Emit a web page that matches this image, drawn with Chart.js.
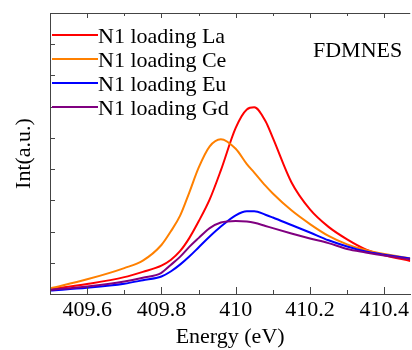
<!DOCTYPE html>
<html>
<head>
<meta charset="utf-8">
<script src="https://cdn.jsdelivr.net/npm/chart.js@4"></script>
<style>
  html, body { margin: 0; padding: 0; background: #fff; }
  #wrap { width: 412px; height: 350px; position: relative; }
</style>
</head>
<body>
<div id="wrap"><canvas id="spectra"></canvas></div>
<script>
const energy = [409.5, 409.6, 409.7, 409.75, 409.8, 409.825, 409.85, 409.875, 409.9, 409.93, 409.96,
  410.0, 410.03, 410.05, 410.08, 410.1, 410.15, 410.2, 410.25, 410.3, 410.35, 410.4, 410.47];

const la = [0.15, 0.32, 0.54, 0.71, 0.91, 1.09, 1.37, 1.79, 2.32, 3.03, 3.96,
  5.32, 5.91, 5.98, 5.54, 5.0, 3.58, 2.71, 2.15, 1.75, 1.43, 1.24, 1.06];
const ce = [0.18, 0.47, 0.83, 1.07, 1.57, 2.0, 2.5, 3.25, 4.04, 4.73, 4.96,
  4.65, 4.16, 3.89, 3.47, 3.22, 2.68, 2.24, 1.86, 1.59, 1.41, 1.28, 1.14];
const eu = [0.11, 0.20, 0.33, 0.44, 0.56, 0.72, 0.94, 1.20, 1.49, 1.84, 2.16,
  2.52, 2.65, 2.65, 2.54, 2.45, 2.21, 1.97, 1.72, 1.52, 1.36, 1.26, 1.14];
const gd = [0.13, 0.24, 0.40, 0.52, 0.68, 0.93, 1.19, 1.51, 1.79, 2.11, 2.29,
  2.34, 2.32, 2.28, 2.18, 2.11, 1.94, 1.78, 1.63, 1.44, 1.33, 1.23, 1.11];

const seriesNames = ['N1 loading La', 'N1 loading Ce', 'N1 loading Eu', 'N1 loading Gd'];
const seriesColors = ['#ff0000', '#ff8000', '#0000ff', '#800080'];

const xTicks = [409.5, 409.6, 409.7, 409.8, 409.9, 410.0, 410.1, 410.2, 410.3, 410.4];
const xTickLabels = ['', '409.6', '', '409.8', '', '410', '', '410.2', '', '410.4'];

const serif = '"Liberation Serif"';
Chart.defaults.font.family = serif;
Chart.defaults.color = '#000';

function pts(ys) {
  return energy.map((e, i) => ({ x: e, y: ys[i] }));
}

// inward ticks, top frame line, legend and label inside the plot
const frame = {
  id: 'frame',
  afterDraw(chart) {
    const { ctx, chartArea: a, scales: { x, y } } = chart;
    ctx.save();
    ctx.strokeStyle = '#444';
    ctx.lineWidth = 1;
    ctx.beginPath();
    ctx.moveTo(a.left, a.top + 0.5);
    ctx.lineTo(a.right, a.top + 0.5);
    x.ticks.forEach((t, i) => {
      const px = Math.round(x.getPixelForValue(t.value)) + 0.5;
      const major = xTickLabels[i] !== '' || i === 0;
      ctx.moveTo(px, a.bottom);
      ctx.lineTo(px, a.bottom - (major ? 7 : 4));
      ctx.moveTo(px, a.top);
      ctx.lineTo(px, a.top + (major ? 5 : 3));
    });
    y.ticks.forEach(t => {
      if (t.value <= y.min || t.value >= y.max) return;
      const py = Math.round(y.getPixelForValue(t.value)) + 0.5;
      ctx.moveTo(a.left, py);
      ctx.lineTo(a.left + 5, py);
    });
    ctx.stroke();

    ctx.font = '22px ' + serif;
    ctx.fillStyle = '#000';
    ctx.textBaseline = 'alphabetic';
    chart.data.datasets.forEach((ds, i) => {
      const rowY = 35 + i * 24;
      ctx.strokeStyle = ds.borderColor;
      ctx.lineWidth = 2;
      ctx.beginPath();
      ctx.moveTo(52, rowY);
      ctx.lineTo(98, rowY);
      ctx.stroke();
      ctx.fillText(ds.label, 98, rowY + 8);
    });
    ctx.fillText('FDMNES', 313, 57);
    ctx.restore();
  }
};

const lists = [la, ce, eu, gd];
const datasets = seriesNames.map((name, i) => ({
  label: name,
  data: pts(lists[i]),
  borderColor: seriesColors[i],
  backgroundColor: seriesColors[i],
  borderWidth: 2,
  pointRadius: 0,
  cubicInterpolationMode: 'monotone',
  order: 4 - i
}));

new Chart(document.getElementById('spectra'), {
  type: 'line',
  data: { datasets },
  options: {
    responsive: true,
    maintainAspectRatio: false,
    animation: false,
    layout: { padding: { top: 13, right: 0, left: 0, bottom: 0 } },
    plugins: { legend: { display: false }, tooltip: { enabled: false } },
    scales: {
      x: {
        type: 'linear',
        min: 409.5,
        max: 410.47,
        afterBuildTicks: s => { s.ticks = xTicks.map(v => ({ value: v })); },
        afterFit: s => { s.height = 56; },
        grid: { display: false, drawTicks: false },
        border: { display: true, color: '#444', width: 1 },
        ticks: {
          autoSkip: false,
          maxRotation: 0,
          padding: 3,
          font: { size: 22 },
          callback: (v, i) => xTickLabels[i]
        },
        title: { display: true, text: 'Energy (eV)', font: { size: 22 }, padding: { top: 0, bottom: 0 } }
      },
      y: {
        min: 0,
        max: 9,
        afterFit: s => { s.width = 50; },
        grid: { display: false, drawTicks: false },
        border: { display: true, color: '#444', width: 1 },
        ticks: { display: false, stepSize: 1 },
        title: { display: true, text: 'Int(a.u.)', font: { size: 22 }, padding: { top: 11, bottom: 0 } }
      }
    }
  },
  plugins: [frame]
});
</script>
</body>
</html>
